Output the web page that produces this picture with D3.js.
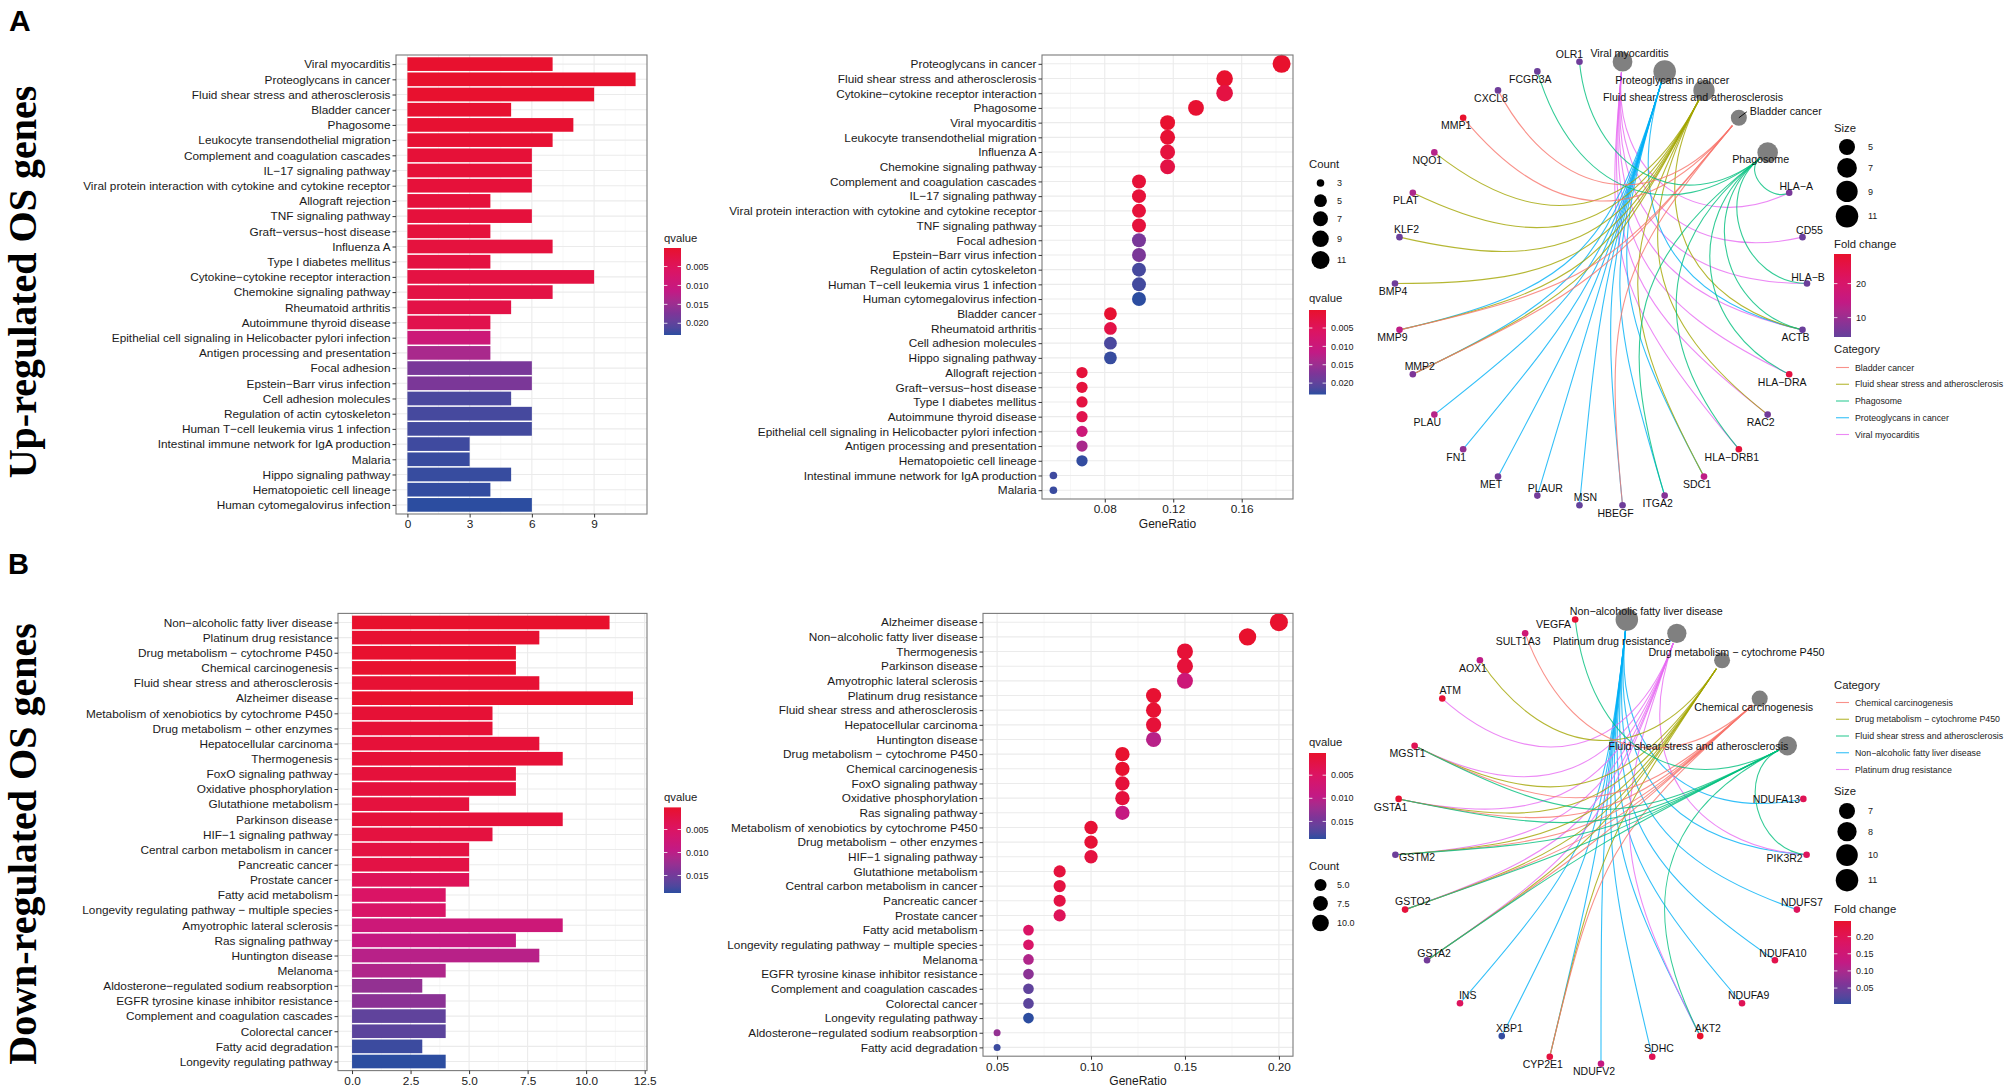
<!DOCTYPE html>
<html>
<head>
<meta charset="utf-8">
<script src="https://cdn.jsdelivr.net/npm/d3@7"></script>
<style>
body { margin: 0; background: #fff; }
svg { display: block; }
</style>
</head>
<body>
<script>
// ---------- data: up-regulated ----------
const barTermsA = ["Viral myocarditis", "Proteoglycans in cancer", "Fluid shear stress and atherosclerosis", "Bladder cancer", "Phagosome",
  "Leukocyte transendothelial migration", "Complement and coagulation cascades", "IL−17 signaling pathway",
  "Viral protein interaction with cytokine and cytokine receptor", "Allograft rejection", "TNF signaling pathway",
  "Graft−versus−host disease", "Influenza A", "Type I diabetes mellitus", "Cytokine−cytokine receptor interaction",
  "Chemokine signaling pathway", "Rheumatoid arthritis", "Autoimmune thyroid disease",
  "Epithelial cell signaling in Helicobacter pylori infection", "Antigen processing and presentation", "Focal adhesion",
  "Epstein−Barr virus infection", "Cell adhesion molecules", "Regulation of actin cytoskeleton",
  "Human T−cell leukemia virus 1 infection", "Intestinal immune network for IgA production", "Malaria",
  "Hippo signaling pathway", "Hematopoietic cell lineage", "Human cytomegalovirus infection"];
const barCountsA = [7, 11, 9, 5, 8, 7, 6, 6, 6, 4, 6, 4, 7, 4, 9, 7, 5, 4, 4, 4, 6, 6, 5, 6, 6, 3, 3, 5, 4, 6];
const barQvaluesA = [0.0003, 0.0001, 0.0003, 0.0005, 0.0006, 0.0008, 0.0012, 0.0013, 0.0014, 0.0015, 0.0016, 0.0018,
  0.0019, 0.0022, 0.0024, 0.0026, 0.0028, 0.0035, 0.0095, 0.0138, 0.0178, 0.0176, 0.0215, 0.0218, 0.0220, 0.0222,
  0.0225, 0.0226, 0.0228, 0.0231];

const dotTermsA = ["Proteoglycans in cancer", "Fluid shear stress and atherosclerosis", "Cytokine−cytokine receptor interaction",
  "Phagosome", "Viral myocarditis", "Leukocyte transendothelial migration", "Influenza A", "Chemokine signaling pathway",
  "Complement and coagulation cascades", "IL−17 signaling pathway", "Viral protein interaction with cytokine and cytokine receptor",
  "TNF signaling pathway", "Focal adhesion", "Epstein−Barr virus infection", "Regulation of actin cytoskeleton",
  "Human T−cell leukemia virus 1 infection", "Human cytomegalovirus infection", "Bladder cancer", "Rheumatoid arthritis",
  "Cell adhesion molecules", "Hippo signaling pathway", "Allograft rejection", "Graft−versus−host disease",
  "Type I diabetes mellitus", "Autoimmune thyroid disease", "Epithelial cell signaling in Helicobacter pylori infection",
  "Antigen processing and presentation", "Hematopoietic cell lineage", "Intestinal immune network for IgA production", "Malaria"];
const dotRatiosA = [0.1833, 0.15, 0.15, 0.1333, 0.1167, 0.1167, 0.1167, 0.1167, 0.10, 0.10, 0.10, 0.10, 0.10, 0.10, 0.10,
  0.10, 0.10, 0.0833, 0.0833, 0.0833, 0.0833, 0.0667, 0.0667, 0.0667, 0.0667, 0.0667, 0.0667, 0.0667, 0.05, 0.05];

const netCatsA = ["Viral myocarditis", "Proteoglycans in cancer", "Fluid shear stress and atherosclerosis", "Bladder cancer", "Phagosome"];
const netSizesA = [7, 11, 9, 5, 8];
const netGenesA = ["HLA−A", "CD55", "HLA−B", "ACTB", "HLA−DRA", "RAC2", "HLA−DRB1", "SDC1", "ITGA2", "HBEGF", "MSN", "PLAUR",
  "MET", "FN1", "PLAU", "MMP2", "MMP9", "BMP4", "KLF2", "PLAT", "NQO1", "MMP1", "CXCL8", "FCGR3A", "OLR1"];
const netFoldA = [6.5, 5, 5, 5, 26, 6, 27, 14, 8, 5.5, 4.3, 6, 6, 9, 13, 7, 14, 5.5, 5, 12, 13, 28.7, 5.5, 5, 5.5];
const netMembersA = [
  ["HLA−A", "CD55", "HLA−B", "ACTB", "HLA−DRA", "RAC2", "HLA−DRB1"],
  ["ACTB", "SDC1", "ITGA2", "HBEGF", "MSN", "PLAUR", "MET", "FN1", "PLAU", "MMP2", "MMP9"],
  ["ACTB", "RAC2", "SDC1", "MMP2", "MMP9", "BMP4", "KLF2", "PLAT", "NQO1"],
  ["HBEGF", "MMP2", "MMP9", "MMP1", "CXCL8"],
  ["HLA−A", "HLA−B", "ACTB", "HLA−DRA", "HLA−DRB1", "ITGA2", "FCGR3A", "OLR1"]];

// ---------- data: down-regulated ----------
const barTermsB = ["Non−alcoholic fatty liver disease", "Platinum drug resistance", "Drug metabolism − cytochrome P450",
  "Chemical carcinogenesis", "Fluid shear stress and atherosclerosis", "Alzheimer disease",
  "Metabolism of xenobiotics by cytochrome P450", "Drug metabolism − other enzymes", "Hepatocellular carcinoma",
  "Thermogenesis", "FoxO signaling pathway", "Oxidative phosphorylation", "Glutathione metabolism", "Parkinson disease",
  "HIF−1 signaling pathway", "Central carbon metabolism in cancer", "Pancreatic cancer", "Prostate cancer",
  "Fatty acid metabolism", "Longevity regulating pathway − multiple species", "Amyotrophic lateral sclerosis",
  "Ras signaling pathway", "Huntington disease", "Melanoma", "Aldosterone−regulated sodium reabsorption",
  "EGFR tyrosine kinase inhibitor resistance", "Complement and coagulation cascades", "Colorectal cancer",
  "Fatty acid degradation", "Longevity regulating pathway"];
const barCountsB = [11, 8, 7, 7, 8, 12, 6, 6, 8, 9, 7, 7, 5, 9, 6, 5, 5, 5, 4, 4, 9, 7, 8, 4, 3, 4, 4, 4, 3, 4];
const barQvaluesB = [0.0002, 0.0006, 0.0004, 0.0004, 0.0008, 0.0003, 0.0009, 0.0009, 0.0012, 0.0010, 0.0014, 0.0015,
  0.0016, 0.0013, 0.0018, 0.0020, 0.0022, 0.0040, 0.0052, 0.0055, 0.0078, 0.0090, 0.0102, 0.0108, 0.0128, 0.0133,
  0.0163, 0.0166, 0.0182, 0.0188];

const dotTermsB = ["Alzheimer disease", "Non−alcoholic fatty liver disease", "Thermogenesis", "Parkinson disease",
  "Amyotrophic lateral sclerosis", "Platinum drug resistance", "Fluid shear stress and atherosclerosis",
  "Hepatocellular carcinoma", "Huntington disease", "Drug metabolism − cytochrome P450", "Chemical carcinogenesis",
  "FoxO signaling pathway", "Oxidative phosphorylation", "Ras signaling pathway",
  "Metabolism of xenobiotics by cytochrome P450", "Drug metabolism − other enzymes", "HIF−1 signaling pathway",
  "Glutathione metabolism", "Central carbon metabolism in cancer", "Pancreatic cancer", "Prostate cancer",
  "Fatty acid metabolism", "Longevity regulating pathway − multiple species", "Melanoma",
  "EGFR tyrosine kinase inhibitor resistance", "Complement and coagulation cascades", "Colorectal cancer",
  "Longevity regulating pathway", "Aldosterone−regulated sodium reabsorption", "Fatty acid degradation"];
const dotRatiosB = [0.20, 0.1833, 0.15, 0.15, 0.15, 0.1333, 0.1333, 0.1333, 0.1333, 0.1167, 0.1167, 0.1167, 0.1167, 0.1167,
  0.10, 0.10, 0.10, 0.0833, 0.0833, 0.0833, 0.0833, 0.0667, 0.0667, 0.0667, 0.0667, 0.0667, 0.0667, 0.0667, 0.05, 0.05];

const netCatsB = ["Non−alcoholic fatty liver disease", "Platinum drug resistance", "Drug metabolism − cytochrome P450",
  "Chemical carcinogenesis", "Fluid shear stress and atherosclerosis"];
const netSizesB = [11, 8, 7, 7, 8];
const netGenesB = ["NDUFA13", "PIK3R2", "NDUFS7", "NDUFA10", "NDUFA9", "AKT2", "SDHC", "NDUFV2", "CYP2E1", "XBP1", "INS",
  "GSTA2", "GSTO2", "GSTM2", "GSTA1", "MGST1", "ATM", "AOX1", "SULT1A3", "VEGFA"];
const netFoldB = [0.20, 0.19, 0.19, 0.21, 0.20, 0.2456, 0.20, 0.13, 0.225, 0.0035, 0.19, 0.05, 0.23, 0.045, 0.24, 0.20,
  0.235, 0.12, 0.15, 0.235];
const netMembersB = [
  ["NDUFA13", "PIK3R2", "NDUFS7", "NDUFA10", "NDUFA9", "AKT2", "SDHC", "NDUFV2", "CYP2E1", "XBP1", "INS"],
  ["PIK3R2", "AKT2", "GSTA2", "GSTO2", "GSTM2", "GSTA1", "MGST1", "ATM"],
  ["CYP2E1", "GSTA2", "GSTO2", "GSTM2", "GSTA1", "MGST1", "AOX1"],
  ["CYP2E1", "GSTA2", "GSTO2", "GSTM2", "GSTA1", "MGST1", "SULT1A3"],
  ["PIK3R2", "AKT2", "GSTA2", "GSTO2", "GSTM2", "GSTA1", "MGST1", "VEGFA"]];

// ---------- styles ----------
const FONT = "'Liberation Sans', Arial, Helvetica, sans-serif";
const INK = "#1a1a1a";
const hue = ["#F8766D", "#A3A500", "#00BF7D", "#00B0F6", "#E76BF3"];
const ramp = d3.scaleLinear()
  .domain([0, 0.25, 0.5, 0.75, 1])
  .range(["#E8112D", "#DC1462", "#C21A85", "#7E3598", "#2C4DA0"])
  .interpolate(d3.interpolateLab)
  .clamp(true);

const svg = d3.select("body").append("svg").attr("width", 2006).attr("height", 1088)
  .attr("font-family", FONT);
const defs = svg.append("defs");
let gradN = 0;

function styleAxis(ax) {
  ax.select(".domain").remove();
  ax.selectAll(".tick line").attr("stroke", "#333").attr("stroke-width", 1);
  ax.selectAll("text").attr("fill", INK).attr("font-size", 11.8).attr("font-family", FONT);
  ax.attr("font-family", FONT);
}

function colorbar(g, o) {
  const id = "grad" + (gradN++);
  const lg = defs.append("linearGradient").attr("id", id)
    .attr("x1", 0).attr("x2", 0).attr("y1", 0).attr("y2", 1);
  d3.range(13).forEach(i => lg.append("stop").attr("offset", i / 12)
    .attr("stop-color", ramp(o.tTop + (o.tBottom - o.tTop) * i / 12)));
  g.append("text").attr("x", o.x).attr("y", o.titleY).attr("font-size", 11.3).attr("fill", INK).text(o.title);
  g.append("rect").attr("x", o.x).attr("y", o.top).attr("width", o.w).attr("height", o.bottom - o.top)
    .attr("fill", `url(#${id})`);
  const s = d3.scaleLinear().domain([o.vTop, o.vBottom]).range([o.top, o.bottom]);
  o.ticks.forEach(v => {
    g.append("line").attr("x1", o.x).attr("x2", o.x + 3.4).attr("y1", s(v)).attr("y2", s(v))
      .attr("stroke", "#fff").attr("stroke-width", 0.8);
    g.append("line").attr("x1", o.x + o.w - 3.4).attr("x2", o.x + o.w).attr("y1", s(v)).attr("y2", s(v))
      .attr("stroke", "#fff").attr("stroke-width", 0.8);
    g.append("text").attr("x", o.x + o.w + 5).attr("y", s(v)).attr("dy", "0.35em")
      .attr("font-size", 9).attr("fill", INK).text(o.fmt(v));
  });
}

function panelGrid(g, x, y, terms, ticks, minor, p) {
  g.append("g").selectAll("line").data(minor).join("line")
    .attr("x1", d => x(d)).attr("x2", d => x(d)).attr("y1", p.top).attr("y2", p.bottom)
    .attr("stroke", "#F2F2F2").attr("stroke-width", 0.6);
  g.append("g").selectAll("line").data(ticks).join("line")
    .attr("x1", d => x(d)).attr("x2", d => x(d)).attr("y1", p.top).attr("y2", p.bottom)
    .attr("stroke", "#EBEBEB").attr("stroke-width", 1.1);
  g.append("g").selectAll("line").data(terms).join("line")
    .attr("x1", p.left).attr("x2", p.right).attr("y1", d => y(d)).attr("y2", d => y(d))
    .attr("stroke", "#EBEBEB").attr("stroke-width", 1.1);
}

function barChart(o) {
  const g = svg.append("g");
  const max = d3.max(o.counts);
  const x = d3.scaleLinear().domain([-0.05 * max, 1.05 * max]).range([o.left, o.right]);
  const y = d3.scalePoint().domain(o.terms).range([o.top, o.bottom]).padding(0.6);
  const qe = d3.extent(o.qs);
  const col = q => ramp((q - qe[0]) / (qe[1] - qe[0]));
  panelGrid(g, x, y, o.terms, o.ticks, o.minor, o);
  g.append("g").selectAll("rect").data(o.terms).join("rect")
    .attr("x", x(0)).attr("y", d => y(d) - y.step() * 0.45)
    .attr("width", (d, i) => x(o.counts[i]) - x(0)).attr("height", y.step() * 0.9)
    .attr("fill", (d, i) => col(o.qs[i]));
  g.append("rect").attr("x", o.left).attr("y", o.top).attr("width", o.right - o.left).attr("height", o.bottom - o.top)
    .attr("fill", "none").attr("stroke", "#7a7a7a").attr("stroke-width", 1.1);
  styleAxis(g.append("g").attr("transform", `translate(${o.left},0)`)
    .call(d3.axisLeft(y).tickSize(3.5).tickPadding(2)));
  styleAxis(g.append("g").attr("transform", `translate(0,${o.bottom})`)
    .call(d3.axisBottom(x).tickValues(o.ticks).tickFormat(o.fmt).tickSize(3.5).tickPadding(2.5)));
  colorbar(g, { x: o.leg.x, titleY: o.leg.titleY, top: o.leg.top, bottom: o.leg.bottom, w: 17, title: "qvalue",
    tTop: 0, tBottom: 1, vTop: qe[0], vBottom: qe[1], ticks: o.qTicks, fmt: d3.format(".3f") });
}

function dotChart(o) {
  const g = svg.append("g");
  const count = new Map(o.barTerms.map((t, i) => [t, o.barCounts[i]]));
  const qv = new Map(o.barTerms.map((t, i) => [t, o.barQs[i]]));
  const ext = d3.extent(o.ratios);
  const pad = (ext[1] - ext[0]) * 0.05;
  const x = d3.scaleLinear().domain([ext[0] - pad, ext[1] + pad]).range([o.left, o.right]);
  const y = d3.scalePoint().domain(o.terms).range([o.top, o.bottom]).padding(0.6);
  const qe = d3.extent(o.barQs);
  const col = q => ramp((q - qe[0]) / (qe[1] - qe[0]));
  const ce = d3.extent(o.barCounts);
  const dia = c => o.dMin + (o.dMax - o.dMin) * Math.sqrt((c - ce[0]) / (ce[1] - ce[0]));
  panelGrid(g, x, y, o.terms, o.ticks, o.minor, o);
  g.append("g").selectAll("circle").data(o.terms).join("circle")
    .attr("cx", (d, i) => x(o.ratios[i])).attr("cy", d => y(d))
    .attr("r", d => dia(count.get(d)) / 2).attr("fill", d => col(qv.get(d)));
  g.append("rect").attr("x", o.left).attr("y", o.top).attr("width", o.right - o.left).attr("height", o.bottom - o.top)
    .attr("fill", "none").attr("stroke", "#7a7a7a").attr("stroke-width", 1.1);
  styleAxis(g.append("g").attr("transform", `translate(${o.left},0)`)
    .call(d3.axisLeft(y).tickSize(3.5).tickPadding(2)));
  styleAxis(g.append("g").attr("transform", `translate(0,${o.bottom})`)
    .call(d3.axisBottom(x).tickValues(o.ticks).tickFormat(d3.format(".2f")).tickSize(3.5).tickPadding(2.5)));
  g.append("text").attr("x", (o.left + o.right) / 2).attr("y", o.bottom + 28.5).attr("text-anchor", "middle")
    .attr("font-size", 12).attr("fill", INK).text("GeneRatio");
  // count legend
  const L = o.countLeg;
  g.append("text").attr("x", L.x).attr("y", L.titleY).attr("font-size", 11.3).attr("fill", INK).text("Count");
  o.countBreaks.forEach((c, i) => {
    g.append("circle").attr("cx", L.x + 11.5).attr("cy", L.ys[i]).attr("r", dia(c) / 2).attr("fill", "#000");
    g.append("text").attr("x", L.x + 28).attr("y", L.ys[i]).attr("dy", "0.35em").attr("font-size", 9)
      .attr("fill", INK).text(o.countFmt(c));
  });
  colorbar(g, { x: o.qLeg.x, titleY: o.qLeg.titleY, top: o.qLeg.top, bottom: o.qLeg.bottom, w: 17, title: "qvalue",
    tTop: 0, tBottom: 1, vTop: qe[0], vBottom: qe[1], ticks: o.qTicks, fmt: d3.format(".3f") });
}

function network(o) {
  const g = svg.append("g");
  const nC = o.cats.length, N = nC + o.genes.length;
  const unit = i => { const a = (i + 0.5) * 2 * Math.PI / N; return [Math.sin(a), -Math.cos(a)]; };
  const X = u => o.cx + o.rx * u[0], Y = u => o.cy + o.ry * u[1];
  const sorted = o.cats.slice().sort();
  const ecol = c => hue[sorted.indexOf(c)];
  const fcMax = d3.max(o.fold), fcMin = d3.min(o.fold);
  const fcCol = v => ramp(1 - v / fcMax);
  const se = d3.extent(o.sizes);
  const nodeD = s => 16 + 6.5 * Math.sqrt((s - se[0]) / (se[1] - se[0]));

  const edges = [];
  o.cats.forEach((c, ci) => o.members[ci].forEach(gn => edges.push({ c, ci, gi: o.genes.indexOf(gn) })));
  const edgePath = e => {
    const p0 = unit(e.ci).map(v => v * 0.953);
    const p3 = unit(nC + e.gi);
    const k = Math.hypot(p0[0] - p3[0], p0[1] - p3[1]) / 2;
    const p1 = p0.map(v => v * (1 - k)), p2 = p3.map(v => v * (1 - k));
    const p = d3.path();
    p.moveTo(X(p0), Y(p0));
    p.bezierCurveTo(X(p1), Y(p1), X(p2), Y(p2), X(p3), Y(p3));
    return p.toString();
  };
  g.append("g").selectAll("path").data(edges).join("path")
    .attr("d", edgePath).attr("fill", "none").attr("stroke", d => ecol(d.c))
    .attr("stroke-width", 1.1).attr("stroke-opacity", 0.8);

  g.append("g").selectAll("circle").data(o.genes).join("circle")
    .attr("cx", (d, i) => X(unit(nC + i))).attr("cy", (d, i) => Y(unit(nC + i)))
    .attr("r", 3.3).attr("fill", (d, i) => fcCol(o.fold[i]));
  g.append("g").selectAll("circle").data(o.cats).join("circle")
    .attr("cx", (d, i) => X(unit(i))).attr("cy", (d, i) => Y(unit(i)))
    .attr("r", (d, i) => nodeD(o.sizes[i]) / 2).attr("fill", "#808080");

  // labels
  o.genes.forEach((gn, i) => {
    const u = unit(nC + i);
    const n = o.geneNudge[gn] || [-7, 11.5];
    g.append("text").attr("x", X(u) + n[0]).attr("y", Y(u) + n[1]).attr("text-anchor", "middle")
      .attr("font-size", 10.5).attr("fill", "#111").text(gn);
  });
  o.cats.forEach((c, i) => {
    const u = unit(i);
    const n = o.catNudge[i];
    const lx = X(u) + n[0], ly = Y(u) + n[1];
    if (n[2] === "start") {
      g.append("line").attr("x1", X(u)).attr("y1", Y(u)).attr("x2", lx - 3).attr("y2", ly - 3)
        .attr("stroke", "#000").attr("stroke-width", 0.9);
    }
    g.append("text").attr("x", lx).attr("y", ly).attr("text-anchor", n[2] || "middle")
      .attr("font-size", 10.7).attr("fill", "#111").text(c);
  });

  // legends
  const L = o.leg, lx = 1834;
  g.append("text").attr("x", lx).attr("y", L.catTitle).attr("font-size", 11.3).attr("fill", INK).text("Category");
  sorted.forEach((c, i) => {
    const yy = L.catY0 + i * 16.75;
    g.append("line").attr("x1", lx + 2).attr("x2", lx + 15).attr("y1", yy).attr("y2", yy)
      .attr("stroke", hue[i]).attr("stroke-width", 1.1).attr("stroke-opacity", 0.8);
    g.append("text").attr("x", lx + 21).attr("y", yy).attr("dy", "0.35em").attr("font-size", 8.8)
      .attr("fill", INK).text(c);
  });
  g.append("text").attr("x", lx).attr("y", L.sizeTitle).attr("font-size", 11.3).attr("fill", INK).text("Size");
  let yy = L.sizeY0;
  o.sizeBreaks.forEach((s, i) => {
    if (i > 0) yy += nodeD(o.sizeBreaks[i - 1]) / 2 + nodeD(s) / 2 + 3;
    g.append("circle").attr("cx", lx + 13).attr("cy", yy).attr("r", nodeD(s) / 2).attr("fill", "#000");
    g.append("text").attr("x", lx + 34).attr("y", yy).attr("dy", "0.35em").attr("font-size", 9)
      .attr("fill", INK).text(s);
  });
  colorbar(g, { x: lx, titleY: L.fcTitle, top: L.fcTop, bottom: L.fcBottom, w: 17, title: "Fold change",
    tTop: 1 - fcMax / fcMax, tBottom: 1 - fcMin / fcMax, vTop: fcMax, vBottom: fcMin,
    ticks: o.fcTicks, fmt: o.fcFmt });
}

// ---------- panel letters & side titles ----------
svg.append("text").attr("x", 9).attr("y", 31).attr("font-size", 30).attr("font-weight", "bold").text("A");
svg.append("text").attr("x", 8).attr("y", 574).attr("font-size", 29).attr("font-weight", "bold").text("B");
[["Up-regulated OS genes", 282], ["Down-regulated OS genes", 844]].forEach(([t, cy]) => {
  svg.append("text").attr("transform", `translate(36,${cy}) rotate(-90)`).attr("text-anchor", "middle")
    .attr("font-family", "'Liberation Serif', 'Times New Roman', serif").attr("font-weight", "bold")
    .attr("font-size", 40).attr("fill", "#000").text(t);
});

// ---------- A ----------
barChart({ terms: barTermsA, counts: barCountsA, qs: barQvaluesA, left: 396, right: 647, top: 55, bottom: 514,
  ticks: [0, 3, 6, 9], minor: [1.5, 4.5, 7.5, 10.5], fmt: d3.format("d"),
  qTicks: [0.005, 0.010, 0.015, 0.020], leg: { x: 664, titleY: 242, top: 248, bottom: 335 } });

dotChart({ terms: dotTermsA, ratios: dotRatiosA, barTerms: barTermsA, barCounts: barCountsA, barQs: barQvaluesA,
  left: 1042, right: 1293, top: 55, bottom: 499, ticks: [0.08, 0.12, 0.16], minor: [0.06, 0.10, 0.14, 0.18],
  dMin: 7.6, dMax: 18, countBreaks: [3, 5, 7, 9, 11], countFmt: d3.format("d"),
  countLeg: { x: 1309, titleY: 168, ys: [183, 200.7, 218.7, 238.8, 260] },
  qTicks: [0.005, 0.010, 0.015, 0.020], qLeg: { x: 1309, titleY: 302, top: 310, bottom: 394.5 } });

network({ cats: netCatsA, sizes: netSizesA, genes: netGenesA, fold: netFoldA, members: netMembersA,
  cx: 1601, cy: 283.5, rx: 206, ry: 223,
  geneNudge: { "OLR1": [-10, -4], "KLF2": [7, -4], "MMP2": [7, -4], "PLAUR": [8, -4], "MSN": [6, -4],
    "HLA−B": [1, -3], "CD55": [7, -3], "HLA−A": [7, -3], "BMP4": [-2, 11] },
  catNudge: [[7, -4.5], [7.5, 13], [-11, 11], [11, -3, "start"], [-7, 10.7]],
  sizeBreaks: [5, 7, 9, 11], fcTicks: [10, 20], fcFmt: d3.format("d"),
  leg: { sizeTitle: 131.5, sizeY0: 147, fcTitle: 248, fcTop: 254, fcBottom: 337, catTitle: 353, catY0: 367.5 } });

// ---------- B ----------
barChart({ terms: barTermsB, counts: barCountsB, qs: barQvaluesB, left: 338, right: 647, top: 613.4, bottom: 1070.6,
  ticks: [0, 2.5, 5, 7.5, 10, 12.5], minor: [1.25, 3.75, 6.25, 8.75, 11.25], fmt: d3.format(".1f"),
  qTicks: [0.005, 0.010, 0.015], leg: { x: 664, titleY: 801, top: 807.4, bottom: 893 } });

dotChart({ terms: dotTermsB, ratios: dotRatiosB, barTerms: barTermsB, barCounts: barCountsB, barQs: barQvaluesB,
  left: 983, right: 1293, top: 613.4, bottom: 1056.2, ticks: [0.05, 0.10, 0.15, 0.20], minor: [0.075, 0.125, 0.175],
  dMin: 7, dMax: 18, countBreaks: [5, 7.5, 10], countFmt: d3.format(".1f"),
  countLeg: { x: 1309, titleY: 870, ys: [885, 903.5, 923] },
  qTicks: [0.005, 0.010, 0.015], qLeg: { x: 1309, titleY: 746, top: 753, bottom: 839 } });

network({ cats: netCatsB, sizes: netSizesB, genes: netGenesB, fold: netFoldB, members: netMembersB,
  cx: 1601, cy: 840.7, rx: 206, ry: 223,
  geneNudge: { "VEGFA": [-21.6, 9], "ATM": [8, -5], "GSTA1": [-8, 12], "GSTM2": [21.7, 6], "GSTO2": [7.7, -5],
    "GSTA2": [7, -3.6], "INS": [7.7, -4.4], "XBP1": [7.6, -4.3], "SDHC": [6.7, -4.4], "AKT2": [7.6, -4.3],
    "NDUFA9": [6.7, -4.4], "NDUFA10": [8, -3.3], "NDUFS7": [5, -4], "PIK3R2": [-22, 7.7], "NDUFA13": [-27, 4] },
  catNudge: [[19.5, -4], [-65, 11.7], [14.4, -4.6], [-6, 12], [-89, 4]],
  sizeBreaks: [7, 8, 10, 11], fcTicks: [0.05, 0.10, 0.15, 0.20], fcFmt: d3.format(".2f"),
  leg: { catTitle: 688.5, catY0: 702.5, sizeTitle: 794.5, sizeY0: 811, fcTitle: 913.3, fcTop: 921, fcBottom: 1004 } });
</script>
</body>
</html>
